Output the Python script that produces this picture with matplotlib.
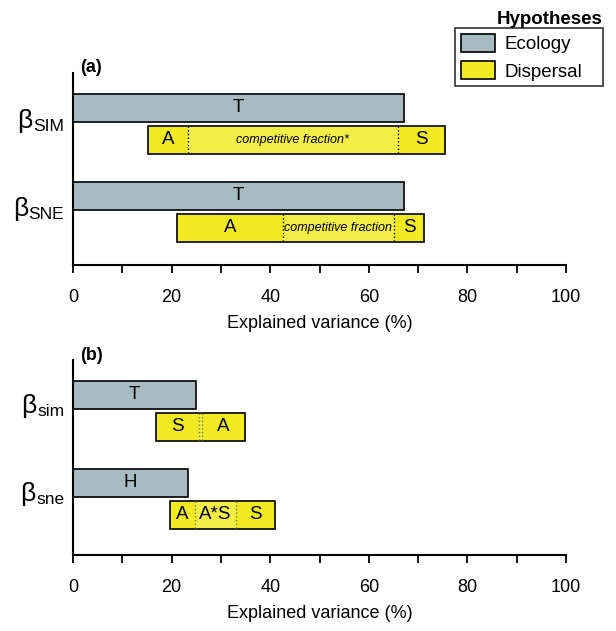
import matplotlib.pyplot as plt
from matplotlib.patches import Patch
from matplotlib.transforms import blended_transform_factory, offset_copy

plt.rcParams['font.family'] = ['Liberation Sans', 'DejaVu Sans']

# colours
eco_col = '#a6bcc2'
disp_col = '#f1ea23'
shared_col = '#f2ee45'

# panel (a)
rows_a = ['SIM', 'SNE']
eco_a = [67.1, 67.1]
eco_lab_a = ['T', 'T']
disp_edges_a = [[15.2, 23.3, 65.9, 75.5], [21.1, 42.6, 65.1, 71.2]]
disp_lab_a = [['A', 'competitive fraction*', 'S'], ['A', 'competitive fraction', 'S']]

# panel (b)
rows_b = ['sim', 'sne']
eco_b = [25.0, 23.3]
eco_lab_b = ['T', 'H']
disp_edges_b = [[16.8, 25.5, 26.1, 34.9], [19.7, 24.7, 33.1, 41.0]]
disp_lab_b = [['S', '', 'A'], ['A', 'A*S', 'S']]

fig = plt.figure(figsize=(6.16, 6.31), dpi=100)
W, H = 616, 631
ax_a = fig.add_axes([73 / W, (H - 265) / H, 493 / W, 192 / H])
ax_b = fig.add_axes([73 / W, (H - 555) / H, 493 / W, 195 / H])
renderer = fig.canvas.get_renderer()


def draw_panel(ax, rows, eco, eco_lab, edges, labs, ymax, divider_col, base_off):
    centers = [1.82, 4.96]
    off = 0.571
    trans = blended_transform_factory(ax.transAxes, ax.transData)
    for i, c in enumerate(centers):
        # ecology bar
        ax.barh(c - off, eco[i], height=1.0, left=0, color=eco_col,
                edgecolor='black', linewidth=1.2)
        ax.text(eco[i] / 2, c - off, eco_lab[i], ha='center', va='center', fontsize=13.5)
        # dispersal bar, split in fractions
        e = edges[i]
        for j in range(len(e) - 1):
            col = disp_col if j != 1 else shared_col
            ax.barh(c + off, e[j + 1] - e[j], height=1.0, left=e[j], color=col, linewidth=0)
            lab = labs[i][j]
            if lab:
                small = len(lab) > 3
                ax.text((e[j] + e[j + 1]) / 2, c + off, lab, ha='center', va='center',
                        fontsize=9 if small else 13.5, style='italic' if small else 'normal')
        for x in e[1:-1]:
            ax.plot([x, x], [c + off - 0.5, c + off + 0.5], color=divider_col,
                    linestyle=':', linewidth=1.0)
        ax.barh(c + off, e[-1] - e[0], height=1.0, left=e[0], fill=False,
                edgecolor='black', linewidth=1.2)
        # row label: beta + suffix, beta sits a bit higher
        suf = ax.text(-0.018, c + base_off, rows[i], transform=trans, ha='right',
                      va='baseline', fontsize=12.5)
        wpx = suf.get_window_extent(renderer).width
        ax.text(-0.018, c + base_off, 'β', ha='right', va='baseline', fontsize=19,
                transform=offset_copy(trans, fig=fig, x=-wpx - 0.5, y=3, units='dots'))

    ax.set_xlim(0, 100)
    ax.set_ylim(ymax, 0)
    ax.spines['top'].set_visible(False)
    ax.spines['right'].set_visible(False)
    ax.spines['left'].set_linewidth(1.5)
    ax.spines['bottom'].set_linewidth(1.5)
    ax.set_yticks([])
    ax.set_xticks(range(0, 101, 20))
    ax.set_xticks(range(10, 100, 20), minor=True)
    ax.tick_params(axis='x', which='both', length=6, width=1.3, labelsize=13, pad=11)
    ax.set_xlabel('Explained variance (%)', fontsize=13, labelpad=7)


draw_panel(ax_a, rows_a, eco_a, eco_lab_a, disp_edges_a, disp_lab_a, 192 / 28, 'black', 0.25)
draw_panel(ax_b, rows_b, eco_b, eco_lab_b, disp_edges_b, disp_lab_b, 195 / 28, '#7a7a40', 0.18)

ax_a.text(0.014, 1.0 + 6 / 192, '(a)', transform=ax_a.transAxes, fontsize=13,
          fontweight='bold', ha='left', va='center')
ax_b.text(0.014, 1.0 + 5 / 195, '(b)', transform=ax_b.transAxes, fontsize=13,
          fontweight='bold', ha='left', va='center')

handles = [Patch(facecolor=eco_col, edgecolor='black', linewidth=1.2, label='Ecology'),
           Patch(facecolor=disp_col, edgecolor='black', linewidth=1.2, label='Dispersal')]
leg = fig.legend(handles=handles, loc='upper left',
                 bbox_to_anchor=(455 / W, 1 - 89 / H, 148 / W, 61 / H), mode='expand',
                 fontsize=13.5, frameon=True, fancybox=False, edgecolor='black',
                 handlelength=1.85, handleheight=1.1, borderpad=0.3, labelspacing=0.45,
                 handletextpad=0.5, borderaxespad=0)
leg.get_frame().set_linewidth(1.2)
fig.text(603 / W, 1 - 19 / H, 'Hypotheses', ha='right', va='center', fontsize=13.5,
         fontweight='bold')

fig.savefig('out.png', dpi=100)
